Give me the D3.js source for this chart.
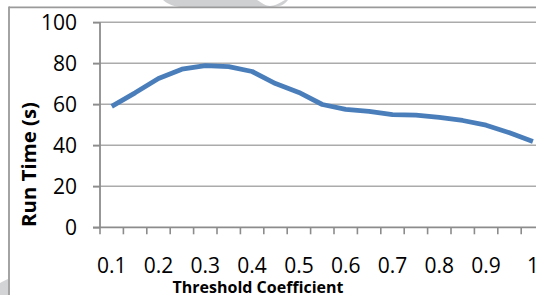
<!DOCTYPE html>
<html>
<head>
<meta charset="utf-8">
<script src="https://cdn.jsdelivr.net/npm/d3@7"></script>
<style>
  html, body { margin: 0; padding: 0; background: #fff; overflow: hidden; }
  svg { display: block; }
</style>
</head>
<body>
<svg id="chart" width="536" height="295"></svg>
<script>
// ---- data ----
const categories = [0.1, 0.15, 0.2, 0.25, 0.3, 0.35, 0.4, 0.45, 0.5, 0.55, 0.6, 0.65, 0.7, 0.75, 0.8, 0.85, 0.9, 0.95, 1];
const runTime = [59, 65.6, 72.6, 77.1, 78.9, 78.4, 76, 70.1, 65.8, 59.9, 57.5, 56.6, 55, 54.7, 53.6, 52.1, 49.8, 46.1, 41.9];
const yTicks = [0, 20, 40, 60, 80, 100];
const xTickLabels = ["0.1", "0.2", "0.3", "0.4", "0.5", "0.6", "0.7", "0.8", "0.9", "1"];
const xTitle = "Threshold Coefficient";
const yTitle = "Run Time (s)";

(function () {
const svg = d3.select("#chart");
const pLeft = 100, pTop = 22.3, pBottom = 227.3;
const step = 23.4;
const pRight = pLeft + step * categories.length;

// watermark / frame decorations
svg.append("path")
  .attr("d", "M163,0 L257,0 C262,3 266,6 270,6 C274,6 280,3 285,0 L288,0 C284,5 280,7 270,7 L180,7 C172,6 166,3 163,0 Z")
  .attr("fill", "#cfd0d2");
svg.append("path")
  .attr("d", "M0,283 C3,281 6,280 8,279 L8,295 L0,295 Z")
  .attr("fill", "#d3d4d6");
svg.append("line").attr("x1", 9).attr("x2", 536).attr("y1", 7.3).attr("y2", 7.3)
  .attr("stroke", "#9a9a9a").attr("stroke-width", 1.8);
svg.append("line").attr("x1", 9).attr("x2", 9).attr("y1", 6.4).attr("y2", 295)
  .attr("stroke", "#9a9a9a").attr("stroke-width", 1.8);

// scales
const x = d3.scaleBand().domain(categories).range([pLeft, pRight]).paddingInner(0).paddingOuter(0);
const y = d3.scaleLinear().domain([0, 100]).range([pBottom, pTop]);

// gridlines
svg.append("g").selectAll("line").data(yTicks.filter(d => d > 0)).join("line")
  .attr("x1", pLeft - 7).attr("x2", 536)
  .attr("y1", d => y(d)).attr("y2", d => y(d))
  .attr("stroke", "#ababab").attr("stroke-width", 1.6);

// y axis
const yAxis = svg.append("g").attr("transform", `translate(${pLeft},0)`)
  .call(d3.axisLeft(y).tickValues(yTicks).tickSize(7).tickPadding(16).tickFormat(d3.format("d")));
yAxis.select(".domain").attr("stroke", "#8c8c8c").attr("stroke-width", 1.8).attr("d", `M0,${pTop}V${pBottom}`);
yAxis.selectAll(".tick line").attr("stroke", "#8c8c8c").attr("stroke-width", 1.6);
yAxis.selectAll(".tick text").attr("font-family", "Open Sans").attr("font-size", 21).attr("fill", "#000");

// x axis (category boundaries as ticks)
const xg = svg.append("g");
xg.append("line").attr("x1", pLeft - 7).attr("x2", 536).attr("y1", pBottom).attr("y2", pBottom)
  .attr("stroke", "#8c8c8c").attr("stroke-width", 1.8);
const boundaries = categories.map(c => x(c)).concat([x(categories[categories.length - 1]) + x.bandwidth()]);
xg.selectAll("line.tk").data(boundaries).join("line").attr("class", "tk")
  .attr("x1", d => d).attr("x2", d => d).attr("y1", pBottom).attr("y2", pBottom + 7)
  .attr("stroke", "#8c8c8c").attr("stroke-width", 1.6);
xg.selectAll("text").data(xTickLabels).join("text")
  .attr("x", d => x(+d) + x.bandwidth() / 2)
  .attr("y", 273)
  .attr("text-anchor", "middle")
  .attr("font-family", "Open Sans").attr("font-size", 21).attr("fill", "#000")
  .text(d => d);

// line
const line = d3.line().x((d, i) => x(categories[i]) + x.bandwidth() / 2).y(d => y(d)).curve(d3.curveLinear);
svg.append("path").datum(runTime).attr("d", line)
  .attr("fill", "none").attr("stroke", "#4a7ebb").attr("stroke-width", 4.8)
  .attr("stroke-linejoin", "round").attr("stroke-linecap", "butt");

// titles
const xt = svg.append("text").attr("x", 258).attr("y", 293).attr("text-anchor", "middle")
  .attr("font-family", "Open Sans").attr("font-weight", "bold").attr("font-size", 14).attr("fill", "#000")
  .text(xTitle);
const xw = xt.node().getComputedTextLength();
xt.attr("font-size", 14 * 171 / xw);

const yt = svg.append("text").attr("transform", "translate(36,164.5) rotate(-90)").attr("text-anchor", "middle")
  .attr("font-family", "Open Sans").attr("font-weight", "bold").attr("font-size", 20).attr("fill", "#000")
  .text(yTitle);
const yw = yt.node().getComputedTextLength();
yt.attr("font-size", 20 * 125 / yw);
})();
</script>
</body>
</html>
